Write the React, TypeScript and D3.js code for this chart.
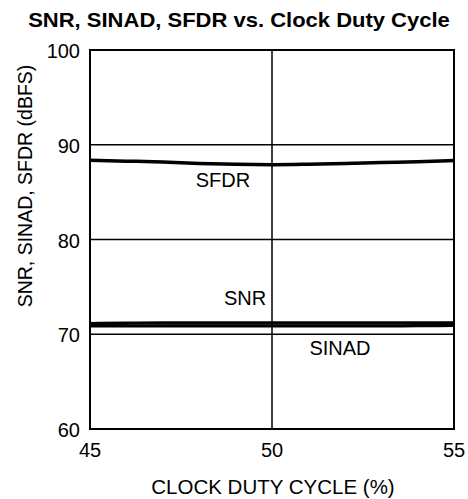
import React from "react";
import * as d3 from "d3";

const dutyCycle = [45, 46, 47, 48, 49, 50, 51, 52, 53, 54, 55];
const sfdr = [88.36, 88.27, 88.18, 88.02, 87.93, 87.9, 87.94, 88.01, 88.12, 88.2, 88.33];
const snr = [71.12, 71.18, 71.2, 71.2, 71.2, 71.2, 71.2, 71.2, 71.2, 71.2, 71.2];
const sinad = [70.88, 70.88, 70.88, 70.88, 70.88, 70.88, 70.88, 70.88, 70.88, 70.9, 70.93];
const xTicks = [45, 50, 55];
const yTicks = [60, 70, 80, 90, 100];

export default function App() {
  const W = 468, H = 499;
  const left = 90, right = 454, top = 50, bottom = 429;
  const x = d3.scaleLinear().domain([45, 55]).range([left, right]);
  const y = d3.scaleLinear().domain([60, 100]).range([bottom, top]);
  const line = (vals: number[]) =>
    d3.line<number>().x((_, i) => x(dutyCycle[i])).y((v) => y(v)).curve(d3.curveMonotoneX)(vals) || "";
  const font = "'Liberation Sans', Arial, Helvetica, sans-serif";
  return (
    <svg width={W} height={H} style={{ position: "absolute", left: 0, top: 0, background: "#fff" }} fontFamily={font}>
      <rect x={0} y={0} width={W} height={H} fill="#fff" />
      <text transform="translate(239,27) scale(1.1,1)" textAnchor="middle" fontWeight="bold" fontSize={20}>
        SNR, SINAD, SFDR vs. Clock Duty Cycle
      </text>
      {yTicks.slice(1, -1).map((t) => (
        <line key={"gy" + t} x1={left} x2={right} y1={y(t)} y2={y(t)} stroke="#000" strokeWidth={1.5} />
      ))}
      {xTicks.slice(1, -1).map((t) => (
        <line key={"gx" + t} x1={x(t)} x2={x(t)} y1={top} y2={bottom} stroke="#000" strokeWidth={1.5} />
      ))}
      <path d={line(sfdr)} fill="none" stroke="#000" strokeWidth={3.5} />
      <path d={line(snr)} fill="none" stroke="#000" strokeWidth={3.2} />
      <path d={line(sinad)} fill="none" stroke="#000" strokeWidth={3.2} />
      <rect x={left} y={top} width={right - left} height={bottom - top} fill="none" stroke="#000" strokeWidth={2} />
      {yTicks.map((t) => (
        <text key={"ty" + t} x={80} y={y(t) + 8} textAnchor="end" fontSize={20}>
          {t}
        </text>
      ))}
      {xTicks.map((t) => (
        <text key={"tx" + t} x={x(t)} y={457} textAnchor="middle" fontSize={20}>
          {t}
        </text>
      ))}
      <text x={273} y={494} textAnchor="middle" fontSize={20.5}>
        CLOCK DUTY CYCLE (%)
      </text>
      <text transform="translate(32,186) rotate(-90)" textAnchor="middle" fontSize={19.5}>
        SNR, SINAD, SFDR (dBFS)
      </text>
      <text x={223} y={187} textAnchor="middle" fontSize={20}>SFDR</text>
      <text x={245} y={305} textAnchor="middle" fontSize={20}>SNR</text>
      <text x={340} y={355} textAnchor="middle" fontSize={20}>SINAD</text>
    </svg>
  );
}
